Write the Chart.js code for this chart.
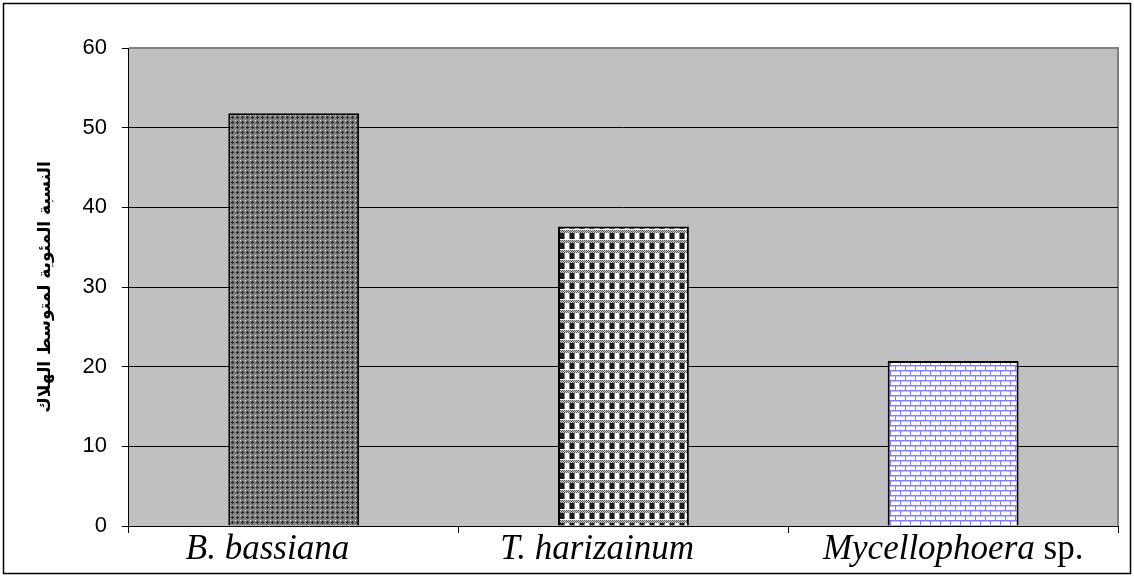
<!DOCTYPE html>
<html>
<head>
<meta charset="utf-8">
<script src="https://cdn.jsdelivr.net/npm/chart.js@4.4.0/dist/chart.umd.min.js"></script>
<style>
  html, body { margin: 0; padding: 0; background: #fff; }
  #wrap { width: 1134px; height: 576px; position: relative; }
</style>
</head>
<body>
<div id="wrap"><canvas id="chart_canvas"></canvas></div>
<script>
// data
const categories = ['B. bassiana', 'T. harizainum', 'Mycellophoera sp.'];
const labelItalic = ['B. bassiana', 'T. harizainum', 'Mycellophoera'];
// trailing blanks as in the original labels
const labelPlain = ['\u00a0\u00a0\u00a0\u00a0\u00a0\u00a0', '\u00a0\u00a0\u00a0\u00a0\u00a0\u00a0', ' sp.'];
const mortality = [51.8, 37.6, 20.7];
const yTicks = [0, 10, 20, 30, 40, 50, 60];
const yTitle = 'النسبة المئوية لمتوسط الهلاك';

// small tiles for the bar fills
function makeTile(size, drawFn) {
  const c = document.createElement('canvas');
  c.width = size; c.height = size;
  const g = c.getContext('2d');
  drawFn(g);
  return g.createPattern(c, 'repeat');
}

const ctx = document.getElementById('chart_canvas').getContext('2d');

const patDots = makeTile(5, g => {
  g.fillStyle = '#808080';
  g.fillRect(0, 0, 5, 5);
  g.fillStyle = '#2a2a2a';
  g.fillRect(2, 1, 1, 3);
  g.fillRect(1, 2, 3, 1);
  g.fillStyle = '#f0f0f0';
  g.fillRect(0, 0, 1, 1);
});

const patCheck = makeTile(10, g => {
  g.fillStyle = '#ffffff';
  g.fillRect(0, 0, 10, 10);
  // dithered band
  for (let y = 0; y < 3; y++) {
    for (let x = 0; x < 10; x++) {
      g.fillStyle = (x + y) % 2 === 0 ? '#5a5a5a' : '#c8c8c8';
      g.fillRect(x, y, 1, 1);
    }
  }
  g.fillStyle = '#1e1e1e';
  g.fillRect(0, 3, 4, 6);
  g.fillStyle = '#7a7a7a';
  g.fillRect(4, 3, 1, 6);
  g.fillRect(9, 3, 1, 6);
});

const patBrick = makeTile(10, g => {
  g.fillStyle = '#ffffff';
  g.fillRect(0, 0, 10, 10);
  g.fillStyle = '#c4c4ff';
  g.fillRect(0, 1, 10, 1);
  g.fillRect(0, 6, 10, 1);
  g.fillStyle = '#8080ff';
  g.fillRect(0, 0, 10, 1);
  g.fillRect(0, 5, 10, 1);
  g.fillRect(0, 1, 1, 4);
  g.fillRect(5, 6, 1, 4);
});

const plotFrame = {
  id: 'plotFrame',
  beforeDraw(chart) {
    const { ctx, chartArea: a } = chart;
    ctx.save();
    ctx.fillStyle = '#c0c0c0';
    ctx.fillRect(a.left, a.top, a.right - a.left, a.bottom - a.top);
    ctx.strokeStyle = '#808080';
    ctx.lineWidth = 2;
    ctx.beginPath();
    ctx.moveTo(a.left, a.top);
    ctx.lineTo(a.right, a.top);
    ctx.lineTo(a.right, a.bottom);
    ctx.stroke();
    ctx.restore();
  },
  afterDraw(chart) {
    const { ctx, chartArea: a } = chart;
    const xs = chart.scales.x;
    ctx.save();
    // outer frame
    ctx.strokeStyle = '#000';
    ctx.lineWidth = 1.5;
    ctx.strokeRect(3.5, 3.5, chart.width - 7, chart.height - 6);
    // x labels, italic name + plain suffix
    ctx.fillStyle = '#000';
    ctx.textBaseline = 'middle';
    const fItal = 'italic 35px "Liberation Serif", "Times New Roman", serif';
    const fPlain = '35px "Liberation Serif", "Times New Roman", serif';
    categories.forEach((c, i) => {
      const cx = xs.getPixelForValue(i);
      ctx.font = fItal;
      const w1 = ctx.measureText(labelItalic[i]).width;
      ctx.font = fPlain;
      const w2 = ctx.measureText(labelPlain[i]).width;
      let x = cx - (w1 + w2) / 2;
      ctx.textAlign = 'left';
      ctx.font = fItal;
      ctx.fillText(labelItalic[i], x, a.bottom + 24);
      ctx.font = fPlain;
      ctx.fillText(labelPlain[i], x + w1, a.bottom + 24);
    });
    ctx.restore();
  }
};

const config = {
  type: 'bar',
  data: {
    labels: categories,
    datasets: [{
      data: mortality,
      backgroundColor: [patDots, patCheck, patBrick],
      borderColor: '#000',
      borderWidth: 2,
      categoryPercentage: 1,
      barPercentage: 0.397
    }]
  },
  options: {
    responsive: true,
    maintainAspectRatio: false,
    animation: false,
    layout: {
      padding: { left: 33, top: 48, right: 16, bottom: 43 }
    },
    scales: {
      x: {
        offset: true,
        grid: {
          offset: true,
          drawOnChartArea: false,
          drawTicks: true,
          tickLength: 7,
          color: '#000'
        },
        border: { color: '#000', width: 1 },
        ticks: { display: false }
      },
      y: {
        min: 0,
        max: 60,
        afterBuildTicks: scale => {
          scale.ticks = yTicks.map(v => ({ value: v }));
        },
        grid: {
          color: c => (c.tick && c.tick.value === 60) ? '#808080' : '#000',
          tickColor: '#000',
          tickLength: 7,
          lineWidth: 1
        },
        border: { color: '#000', width: 1 },
        ticks: {
          color: '#000',
          padding: 15,
          font: { family: '"Liberation Sans", Arial, sans-serif', size: 22 }
        },
        title: {
          display: true,
          text: yTitle,
          color: '#000',
          padding: { top: 2, bottom: 12 },
          font: { family: '"DejaVu Sans", sans-serif', size: 17, weight: 'bold' }
        }
      }
    },
    plugins: {
      legend: { display: false },
      tooltip: { enabled: false }
    }
  },
  plugins: [plotFrame]
};

const myChart = new Chart(ctx, config);
</script>
</body>
</html>
